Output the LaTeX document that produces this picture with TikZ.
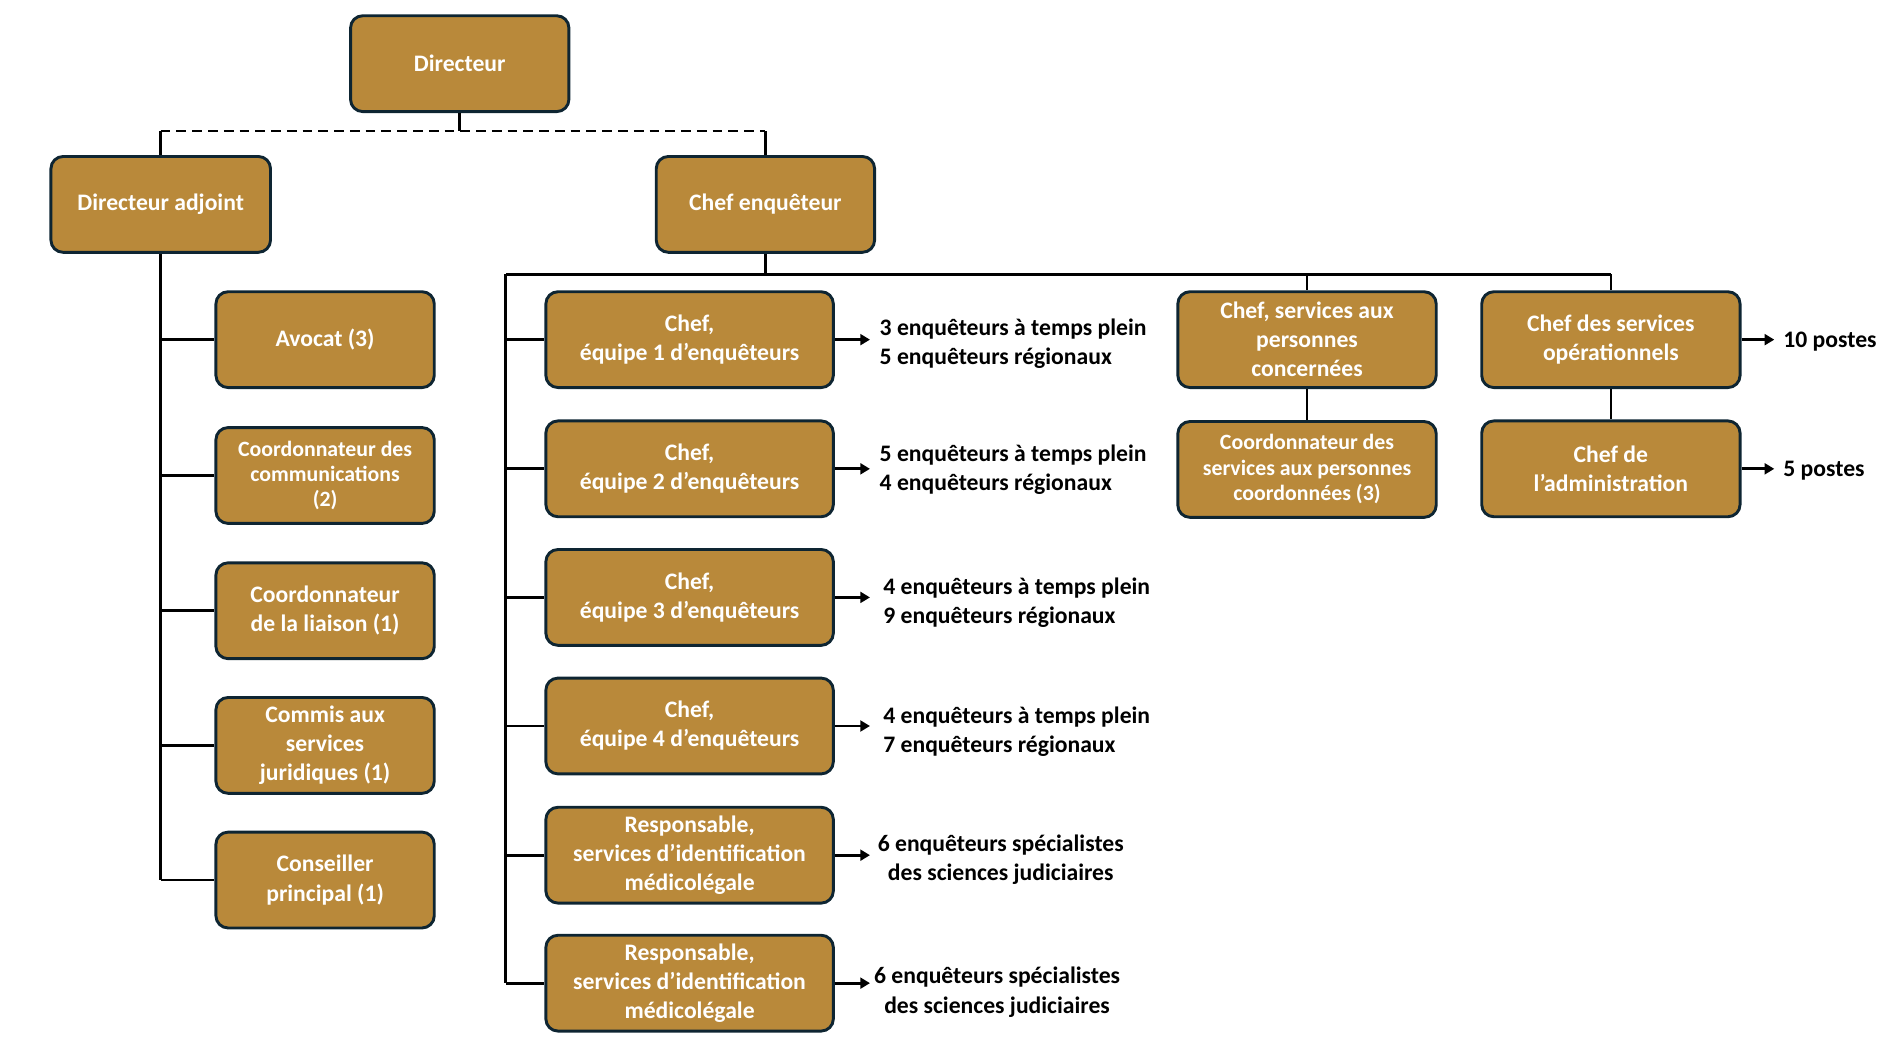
\documentclass[tikz,border=0pt]{standalone}
\usepackage{fontspec}
\setmainfont{Carlito}
\usetikzlibrary{arrows.meta}
\definecolor{boxfill}{RGB}{185,137,58}
\definecolor{boxline}{RGB}{14,37,50}
\begin{document}
\begin{tikzpicture}[x=1pt,y=-1pt,
  box/.style={draw=boxline, line width=2.4pt, fill=boxfill, rounded corners=10pt,
    text=white, font=\bfseries\fontsize{19.5}{24}\selectfont, align=center, inner sep=0pt},
  smallbox/.style={box, font=\bfseries\fontsize{18}{21}\selectfont},
  lbox/.style={box, minimum width=180pt, minimum height=79pt},
  tbox/.style={box, minimum width=237pt, minimum height=79pt},
  rbox/.style={box, minimum width=213pt, minimum height=79pt},
  conn/.style={draw=black, line width=2.3pt},
  arr/.style={draw=black, line width=2.3pt, -{Triangle[length=8pt,width=9pt]}},
  lbl/.style={font=\bfseries\fontsize{19.5}{24}\selectfont, text=black, inner sep=0pt}]
\useasboundingbox (0,0) rectangle (1568,875);

% top level
\node[box, minimum width=180pt, minimum height=79pt] (dir) at (379,52.5) {Directeur};
\node[box, minimum width=181pt, minimum height=79pt] (da) at (132.5,168.5) {Directeur adjoint};
\node[box, minimum width=180pt, minimum height=79pt] (ce) at (631,168.5) {Chef enquêteur};

\coordinate (dm) at (379,108);
\coordinate (dl) at (132.5,108);
\coordinate (dr) at (631,108);
\draw[conn] (dir.south) -- (dm);
\draw[conn, dash pattern=on 8pt off 5pt] (dl) -- (dr);
\draw[conn] (dl) -- (da.north);
\draw[conn] (dr) -- (ce.north);

% left column
\node[lbox] (a1) at (268,280) {Avocat (3)};
\node[lbox, smallbox] (a2) at (268,392) {Coordonnateur des\\communications\\(2)};
\node[lbox] (a3) at (268,503.5) {Coordonnateur\\de la liaison (1)};
\node[lbox] (a4) at (268,614.5) {Commis aux\\services\\juridiques (1)};
\node[lbox] (a5) at (268,725.5) {Conseiller\\principal (1)};
\coordinate (ls) at (132.5,725.5);
\draw[conn] (da.south) -- (ls);
\foreach \n in {a1,a2,a3,a4,a5} \draw[conn] (132.5,0 |- \n.west) -- (\n.west);

% chef enqueteur bar
\coordinate (cm) at (631,226);
\coordinate (cl) at (417,226);
\coordinate (cr) at (1328,226);
\coordinate (cs) at (417,810.5);
\draw[conn] (ce.south) -- (cm);
\draw[conn] (cl) -- (cr);
\draw[conn] (cl) -- (cs);

% teams
\node[tbox] (t1) at (568.5,280) {Chef,\\équipe 1 d’enquêteurs};
\node[tbox] (t2) at (568.5,386.5) {Chef,\\équipe 2 d’enquêteurs};
\node[tbox] (t3) at (568.5,492.5) {Chef,\\équipe 3 d’enquêteurs};
\node[tbox] (t4) at (568.5,598.5) {Chef,\\équipe 4 d’enquêteurs};
\node[tbox] (t5) at (568.5,705) {Responsable,\\services d’identification\\médicolégale};
\node[tbox] (t6) at (568.5,810.5) {Responsable,\\services d’identification\\médicolégale};
\foreach \n in {t1,t2,t3,t4,t5,t6} {
  \draw[conn] (417,0 |- \n.west) -- (\n.west);
  \draw[arr] (\n.east) -- ++(29,0);
}

\node[lbl, anchor=west, align=left] (x1) at (725,283) {3 enquêteurs à temps plein\\5 enquêteurs régionaux};
\node[lbl, anchor=west, align=left] (x2) at (725,387) {5 enquêteurs à temps plein\\4 enquêteurs régionaux};
\node[lbl, anchor=west, align=left] (x3) at (728,497) {4 enquêteurs à temps plein\\9 enquêteurs régionaux};
\node[lbl, anchor=west, align=left] (x4) at (728,603) {4 enquêteurs à temps plein\\7 enquêteurs régionaux};
\node[lbl, align=center] (x5) at (825,709) {6 enquêteurs spécialistes\\des sciences judiciaires};
\node[lbl, align=center] (x6) at (822,818) {6 enquêteurs spécialistes\\des sciences judiciaires};

% right boxes
\node[rbox] (p1) at (1077.5,280) {Chef, services aux\\personnes\\concernées};
\node[rbox, smallbox] (p2) at (1077.5,387) {Coordonnateur des\\services aux personnes\\coordonnées (3)};
\node[rbox] (o1) at (1328,280) {Chef des services\\opérationnels};
\node[rbox] (o2) at (1328,386.5) {Chef de\\l’administration};
\draw[conn] (1077.5,226) -- (p1.north);
\draw[conn] (p1.south) -- (p2.north);
\draw[conn] (cr) -- (o1.north);
\draw[conn] (o1.south) -- (o2.north);
\draw[arr] (o1.east) -- ++(27,0);
\draw[arr] (o2.east) -- ++(27,0);
\node[lbl, anchor=west] (n1) at (1470,282) {10 postes};
\node[lbl, anchor=west] (n2) at (1470,388) {5 postes};
\end{tikzpicture}
\end{document}
